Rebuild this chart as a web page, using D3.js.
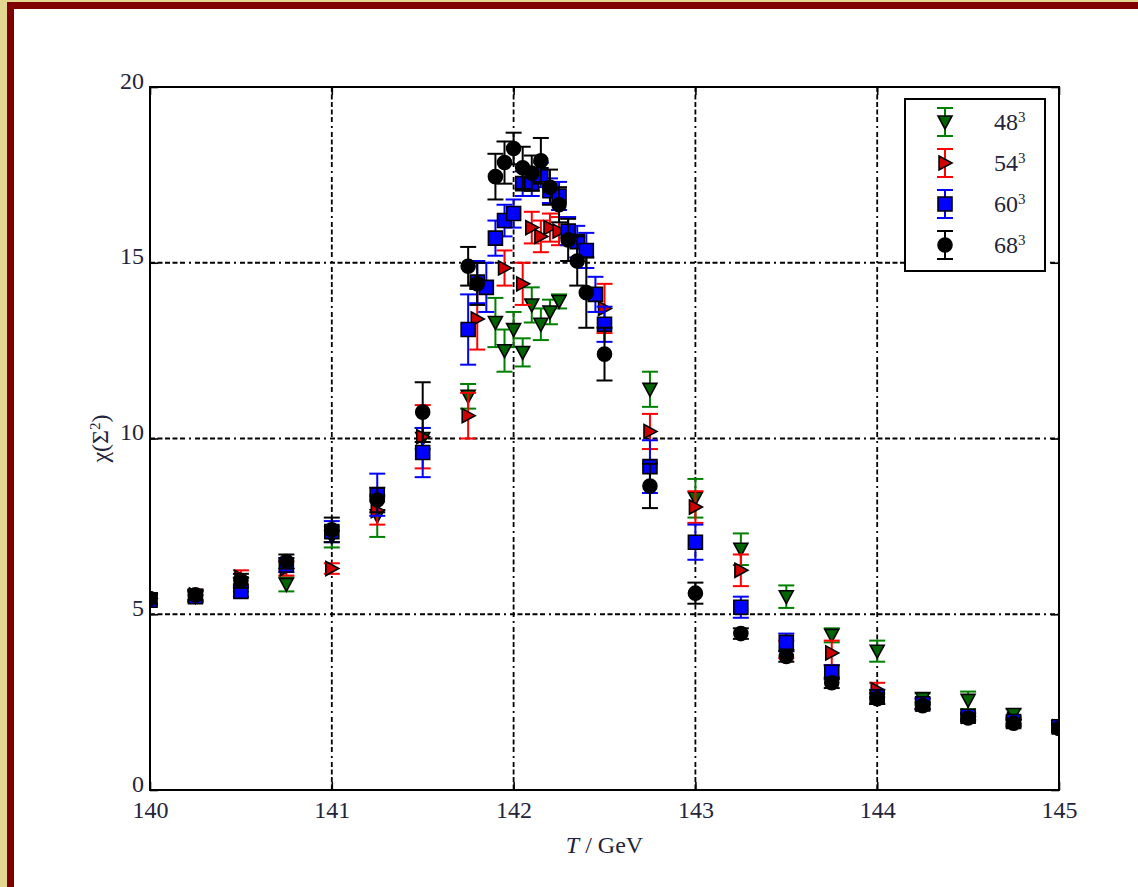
<!DOCTYPE html>
<html>
<head>
<meta charset="utf-8">
<script src="https://cdn.jsdelivr.net/npm/d3@7"></script>
<style>
  html, body { margin: 0; padding: 0; background: #e3d691; }
  svg { display: block; }
  .tick-label { font-family: "Liberation Serif", "DejaVu Serif", serif; font-size: 24px; fill: #23233a; }
</style>
</head>
<body>
<script>
// Susceptibility chi(Sigma^2) against temperature for four lattice volumes
const volumes = ["48", "54", "60", "68"];

const temps48 = [140, 140.25, 140.5, 140.75, 141, 141.25, 141.5, 141.75, 141.9, 141.95, 142.0, 142.05, 142.1, 142.15, 142.2, 142.25, 142.75, 143, 143.25, 143.5, 143.75, 144, 144.25, 144.5, 144.75, 145];
const chi48   = [5.4, 5.5, 5.85, 5.85, 7.2, 7.8, 10.0, 11.2, 13.3, 12.5, 13.1, 12.45, 13.8, 13.25, 13.6, 13.9, 11.4, 8.3, 6.85, 5.5, 4.4, 3.95, 2.6, 2.55, 2.15, 1.8];
const err48   = [0.15, 0.15, 0.2, 0.2, 0.3, 0.6, 0.3, 0.35, 0.7, 0.6, 0.5, 0.4, 0.5, 0.45, 0.35, 0.2, 0.5, 0.55, 0.45, 0.32, 0.2, 0.3, 0.15, 0.25, 0.15, 0.1];

const temps54 = [140, 140.25, 140.5, 140.75, 141, 141.25, 141.5, 141.75, 141.8, 141.95, 142.05, 142.1, 142.15, 142.2, 142.25, 142.5, 142.75, 143, 143.25, 143.5, 143.75, 144, 144.25, 144.5, 144.75, 145];
const chi54   = [5.45, 5.55, 6.05, 6.3, 6.3, 7.95, 10.05, 10.65, 13.4, 14.85, 14.4, 16.0, 15.75, 16.0, 15.9, 13.7, 10.2, 8.05, 6.25, 4.0, 3.9, 2.85, 2.45, 2.1, 2.0, 1.8];
const err54   = [0.15, 0.15, 0.2, 0.2, 0.15, 0.4, 0.9, 0.65, 0.87, 0.5, 0.6, 0.45, 0.45, 0.4, 0.4, 0.7, 0.5, 0.45, 0.45, 0.25, 0.35, 0.2, 0.15, 0.1, 0.1, 0.1];

const temps60 = [140, 140.25, 140.5, 140.75, 141, 141.25, 141.5, 141.75, 141.8, 141.85, 141.9, 141.95, 142.0, 142.05, 142.1, 142.15, 142.2, 142.25, 142.3, 142.35, 142.4, 142.45, 142.5, 142.75, 143, 143.25, 143.5, 143.75, 144, 144.25, 144.5, 144.75, 145];
const chi60   = [5.4, 5.5, 5.65, 6.4, 7.35, 8.4, 9.6, 13.1, 14.45, 14.3, 15.7, 16.2, 16.4, 17.25, 17.25, 17.5, 17.05, 16.9, 15.9, 15.6, 15.35, 14.1, 13.25, 9.2, 7.05, 5.2, 4.2, 3.35, 2.65, 2.45, 2.1, 1.95, 1.8];
const err60   = [0.15, 0.15, 0.15, 0.2, 0.3, 0.6, 0.7, 1.0, 0.6, 0.7, 0.5, 0.45, 0.4, 0.35, 0.35, 0.35, 0.35, 0.4, 0.4, 0.45, 0.5, 0.5, 0.5, 0.75, 0.5, 0.3, 0.25, 0.2, 0.2, 0.15, 0.1, 0.1, 0.1];

const temps68 = [140, 140.25, 140.5, 140.75, 141, 141.25, 141.5, 141.75, 141.8, 141.9, 141.95, 142.0, 142.05, 142.1, 142.15, 142.2, 142.25, 142.3, 142.35, 142.4, 142.5, 142.75, 143, 143.25, 143.5, 143.75, 144, 144.25, 144.5, 144.75, 145];
const chi68   = [5.45, 5.55, 5.95, 6.5, 7.4, 8.25, 10.75, 14.9, 14.4, 17.45, 17.85, 18.25, 17.7, 17.55, 17.9, 17.15, 16.65, 15.65, 15.05, 14.15, 12.4, 8.65, 5.6, 4.45, 3.8, 3.05, 2.6, 2.4, 2.05, 1.9, 1.75];
const err68   = [0.15, 0.15, 0.2, 0.2, 0.35, 0.35, 0.85, 0.55, 0.6, 0.65, 0.6, 0.45, 0.6, 0.5, 0.65, 0.5, 0.5, 0.6, 0.7, 1.0, 0.75, 0.63, 0.3, 0.15, 0.15, 0.15, 0.15, 0.1, 0.1, 0.1, 0.1];

const xTicks = [140, 141, 142, 143, 144, 145];
const yTicks = [0, 5, 10, 15, 20];

const W = 1138, H = 887;
const plot = { left: 150, right: 1059, top: 87, bottom: 790 };

const series = [
  { name: volumes[0], T: temps48, v: chi48, e: err48, bar: "#008000", fill: "#006400", shape: "down" },
  { name: volumes[1], T: temps54, v: chi54, e: err54, bar: "#ff0000", fill: "#d00000", shape: "right" },
  { name: volumes[2], T: temps60, v: chi60, e: err60, bar: "#0000ff", fill: "#0000ff", shape: "square" },
  { name: volumes[3], T: temps68, v: chi68, e: err68, bar: "#000000", fill: "#000000", shape: "circle" }
];

const x = d3.scaleLinear().domain([140, 145]).range([plot.left, plot.right]);
const y = d3.scaleLinear().domain([0, 20]).range([plot.bottom, plot.top]);

const svg = d3.select("body").append("svg").attr("width", W).attr("height", H);

// page frame: khaki surround with a dark red rule at top and left
svg.append("rect").attr("x", 0).attr("y", 0).attr("width", W).attr("height", H).attr("fill", "#e3d691");
svg.append("rect").attr("x", 7).attr("y", 2).attr("width", W - 7).attr("height", H - 2).attr("fill", "#800000");
svg.append("rect").attr("x", 14).attr("y", 9).attr("width", W - 14).attr("height", H - 9).attr("fill", "#ffffff");

svg.append("defs").append("clipPath").attr("id", "plot-clip")
  .append("rect").attr("x", plot.left).attr("y", plot.top)
  .attr("width", plot.right - plot.left).attr("height", plot.bottom - plot.top);

// dash-dot grid
const gridDash = "5,2.5,5,2.5,5,2.5,5,2.5,5,4,2,4";
const grid = svg.append("g");
grid.selectAll(".gx").data(xTicks.slice(1, -1)).join("line")
  .attr("x1", d => x(d)).attr("x2", d => x(d))
  .attr("y1", plot.top).attr("y2", plot.bottom)
  .attr("stroke", "#000").attr("stroke-width", 1.8).attr("stroke-dasharray", gridDash);
grid.selectAll(".gy").data(yTicks.slice(1, -1)).join("line")
  .attr("x1", plot.left).attr("x2", plot.right)
  .attr("y1", d => y(d)).attr("y2", d => y(d))
  .attr("stroke", "#000").attr("stroke-width", 1.8).attr("stroke-dasharray", gridDash);

// marker shapes
function markerPath(shape) {
  const s = 7;
  switch (shape) {
    case "down": return `M${-s},${-s * 0.85}L${s},${-s * 0.85}L0,${s}Z`;
    case "right": return `M${-s * 0.85},${-s}L${s},0L${-s * 0.85},${s}Z`;
    case "square": return `M${-s},${-s}H${s}V${s}H${-s}Z`;
    default: return d3.symbol(d3.symbolCircle, Math.PI * s * s)();
  }
}

const data = series.map(s => ({ ...s, pts: s.T.map((t, i) => ({ t, v: s.v[i], e: s.e[i] })) }));

const cap = 8;
const marks = svg.append("g").attr("clip-path", "url(#plot-clip)");
data.forEach(s => {
  const g = marks.append("g");
  const bars = g.selectAll(".eb").data(s.pts).join("g");
  bars.append("line")
    .attr("x1", d => x(d.t)).attr("x2", d => x(d.t))
    .attr("y1", d => y(d.v - d.e)).attr("y2", d => y(d.v + d.e))
    .attr("stroke", s.bar).attr("stroke-width", 2);
  bars.append("line")
    .attr("x1", d => x(d.t) - cap).attr("x2", d => x(d.t) + cap)
    .attr("y1", d => y(d.v + d.e)).attr("y2", d => y(d.v + d.e))
    .attr("stroke", s.bar).attr("stroke-width", 2);
  bars.append("line")
    .attr("x1", d => x(d.t) - cap).attr("x2", d => x(d.t) + cap)
    .attr("y1", d => y(d.v - d.e)).attr("y2", d => y(d.v - d.e))
    .attr("stroke", s.bar).attr("stroke-width", 2);
  g.selectAll(".mk").data(s.pts).join("path")
    .attr("transform", d => `translate(${x(d.t)},${y(d.v)})`)
    .attr("d", markerPath(s.shape))
    .attr("fill", s.fill).attr("stroke", "#000").attr("stroke-width", 1.6);
});

// axes frame with inward ticks on all four sides
const tickLen = 8;
const axes = svg.append("g");
axes.append("g").attr("transform", `translate(0,${plot.bottom})`)
  .call(d3.axisBottom(x).tickValues(xTicks).tickSize(-tickLen).tickPadding(11).tickFormat(d3.format("d")))
  .call(g => g.select(".domain").remove());
axes.append("g").attr("transform", `translate(0,${plot.top})`)
  .call(d3.axisTop(x).tickValues(xTicks).tickSize(-tickLen).tickFormat(""))
  .call(g => g.select(".domain").remove());
const yAxis = axes.append("g").attr("transform", `translate(${plot.left},0)`)
  .call(d3.axisLeft(y).tickValues(yTicks).tickSize(-tickLen).tickPadding(6).tickFormat(d3.format("d")))
  .call(g => g.select(".domain").remove());
yAxis.selectAll(".tick text").attr("dy", "0.05em");
axes.append("g").attr("transform", `translate(${plot.right},0)`)
  .call(d3.axisRight(y).tickValues(yTicks).tickSize(-tickLen).tickFormat(""))
  .call(g => g.select(".domain").remove());
axes.selectAll(".tick line").attr("stroke", "#000").attr("stroke-width", 1.6);
axes.selectAll(".tick text").attr("class", "tick-label").attr("font-size", null).attr("font-family", null).attr("fill", null);
axes.append("rect").attr("x", plot.left).attr("y", plot.top)
  .attr("width", plot.right - plot.left).attr("height", plot.bottom - plot.top)
  .attr("fill", "none").attr("stroke", "#000").attr("stroke-width", 2);

// axis titles
const xt = svg.append("text").attr("x", (plot.left + plot.right) / 2).attr("y", 853)
  .attr("text-anchor", "middle").attr("class", "tick-label");
xt.append("tspan").attr("font-style", "italic").text("T");
xt.append("tspan").text(" / GeV");

const yt = svg.append("text").attr("transform", `translate(108,${(plot.top + plot.bottom) / 2}) rotate(-90)`)
  .attr("text-anchor", "middle").attr("class", "tick-label");
yt.append("tspan").text("χ(Σ");
yt.append("tspan").attr("baseline-shift", "super").attr("font-size", "15px").text("2");
yt.append("tspan").text(")");

// legend
const lg = svg.append("g");
lg.append("rect").attr("x", 905).attr("y", 99).attr("width", 140).attr("height", 172)
  .attr("fill", "#fff").attr("stroke", "#000").attr("stroke-width", 2);
const rowY = d3.scalePoint().domain(volumes).range([122, 245]);
data.forEach(s => {
  const cy = rowY(s.name), cx = 945, le = 14;
  const g = lg.append("g");
  g.append("line").attr("x1", cx).attr("x2", cx).attr("y1", cy - le).attr("y2", cy + le).attr("stroke", s.bar).attr("stroke-width", 2);
  g.append("line").attr("x1", cx - cap).attr("x2", cx + cap).attr("y1", cy - le).attr("y2", cy - le).attr("stroke", s.bar).attr("stroke-width", 2);
  g.append("line").attr("x1", cx - cap).attr("x2", cx + cap).attr("y1", cy + le).attr("y2", cy + le).attr("stroke", s.bar).attr("stroke-width", 2);
  g.append("path").attr("transform", `translate(${cx},${cy})`).attr("d", markerPath(s.shape))
    .attr("fill", s.fill).attr("stroke", "#000").attr("stroke-width", 1.6);
  const t = g.append("text").attr("x", 994).attr("y", cy + 8).attr("class", "tick-label");
  t.append("tspan").text(s.name);
  t.append("tspan").attr("baseline-shift", "super").attr("font-size", "15px").text("3");
});
</script>
</body>
</html>
